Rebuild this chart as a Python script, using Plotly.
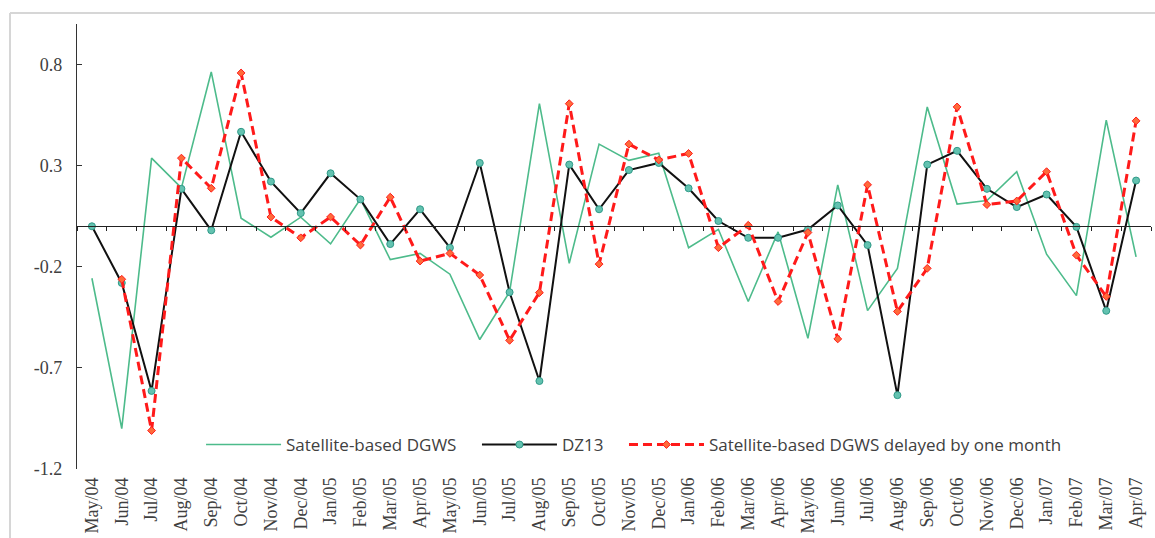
import plotly.graph_objects as go

# Monthly categories, May 2004 - April 2007
months = ["May/04", "Jun/04", "Jul/04", "Aug/04", "Sep/04", "Oct/04", "Nov/04", "Dec/04",
          "Jan/05", "Feb/05", "Mar/05", "Apr/05", "May/05", "Jun/05", "Jul/05", "Aug/05",
          "Sep/05", "Oct/05", "Nov/05", "Dec/05", "Jan/06", "Feb/06", "Mar/06", "Apr/06",
          "May/06", "Jun/06", "Jul/06", "Aug/06", "Sep/06", "Oct/06", "Nov/06", "Dec/06",
          "Jan/07", "Feb/07", "Mar/07", "Apr/07"]

satellite_dgws = [-0.257, -1.0, 0.337, 0.19, 0.763, 0.04, -0.054, 0.045, -0.087, 0.135,
                  -0.165, -0.134, -0.237, -0.56, -0.325, 0.606, -0.183, 0.406, 0.326, 0.361,
                  -0.106, -0.015, -0.372, -0.028, -0.554, 0.205, -0.417, -0.208, 0.59, 0.11,
                  0.127, 0.27, -0.138, -0.343, 0.525, -0.151]

dz13 = [0, -0.28, -0.814, 0.185, -0.02, 0.467, 0.221, 0.065, 0.262, 0.133,
        -0.088, 0.084, -0.106, 0.313, -0.326, -0.765, 0.305, 0.084, 0.278, 0.313,
        0.188, 0.026, -0.057, -0.057, -0.016, 0.103, -0.093, -0.835, 0.305, 0.373,
        0.185, 0.095, 0.157, -0.003, -0.418, 0.226]

satellite_delayed = [None, -0.262, -1.01, 0.337, 0.188, 0.758, 0.046, -0.057, 0.046, -0.093,
                     0.144, -0.172, -0.134, -0.241, -0.564, -0.328, 0.606, -0.187, 0.406, 0.328,
                     0.36, -0.106, 0.005, -0.372, -0.031, -0.557, 0.205, -0.421, -0.208, 0.59,
                     0.107, 0.125, 0.27, -0.143, -0.347, 0.521]

y_ticks = [-1.2, -0.7, -0.2, 0.3, 0.8]
y_min, y_max = -1.2, 1.0

W, H = 1155, 538
M_L, M_R, M_T, M_B = 77, 4, 24, 69
plot_w = W - M_L - M_R
plot_h = H - M_T - M_B

GREEN = "#4dbb8b"
RED = "#ff1a1a"
TEXT = "#404040"
SERIF = "Liberation Serif, Times New Roman, serif"
SANS = "Open Sans, Noto Sans, sans-serif"

fig = go.Figure()

fig.add_trace(go.Scatter(
    x=months, y=satellite_dgws, name="Satellite-based DGWS", mode="lines",
    legend="legend",
    line=dict(color=GREEN, width=1.6),
))
fig.add_trace(go.Scatter(
    x=months, y=dz13, name="DZ13", mode="lines+markers",
    legend="legend2",
    line=dict(color="#111111", width=2),
    marker=dict(symbol="circle", size=7, color="#63c2b0",
                line=dict(color="#2f9a88", width=1)),
))
fig.add_trace(go.Scatter(
    x=months, y=satellite_delayed, name="Satellite-based DGWS delayed by one month",
    mode="lines+markers", legend="legend3",
    line=dict(color=RED, width=3, dash="9px,5px"),
    marker=dict(symbol="diamond", size=6, color="#ff6a3a",
                line=dict(color=RED, width=1)),
))
# Empty trace so the zero-crossing category axis gets drawn
fig.add_trace(go.Scatter(x=[], y=[], xaxis="x2", yaxis="y", showlegend=False,
                         hoverinfo="skip", mode="lines"))

# Horizontal category axis drawn through y = 0 with ticks between months
zero_pos = (0 - y_min) / (y_max - y_min)
n = len(months)


def legend_box(x):
    return dict(orientation="h", x=x, y=0.054, xanchor="left", yanchor="middle",
                font=dict(family=SANS, size=17, color=TEXT),
                bgcolor="rgba(255,255,255,0)", itemwidth=75)


fig.update_layout(
    width=W, height=H,
    margin=dict(l=M_L, r=M_R, t=M_T, b=M_B),
    paper_bgcolor="white", plot_bgcolor="white",
    showlegend=True,
    legend=legend_box(0.1155),
    legend2=legend_box(0.3724),
    legend3=legend_box(0.5093),
    xaxis=dict(type="category", range=[-0.5, n - 0.5], showline=False, ticks="",
               showgrid=False, zeroline=False, tickangle=-90, ticklabelstandoff=4,
               tickfont=dict(family=SERIF, size=18, color=TEXT)),
    xaxis2=dict(type="linear", overlaying="x", anchor="free", position=zero_pos,
                range=[-0.5, n - 0.5], showline=True, linecolor="#222222", linewidth=1.3,
                ticks="outside", ticklen=4, tickcolor="#222222", tickwidth=1,
                tickvals=[i - 0.5 for i in range(n + 1)], showticklabels=False,
                showgrid=False, zeroline=False, side="bottom"),
    yaxis=dict(range=[y_min, y_max], tickvals=y_ticks, ticktext=[f"{v:.1f}" for v in y_ticks],
               showline=True, linecolor="#333333", linewidth=1.3, ticks="inside", ticklen=5,
               tickcolor="#333333", showgrid=False, zeroline=False,
               ticklabelstandoff=10,
               tickfont=dict(family=SERIF, size=18, color=TEXT)),
)

# Outer chart-area border (top and left edges visible)
bx0 = (10 - M_L) / plot_w
by0 = 1 + (M_T - 13) / plot_h
fig.add_shape(type="line", xref="paper", yref="paper", x0=bx0, x1=1 + (M_R + 5) / plot_w,
              y0=by0, y1=by0, line=dict(color="#d6d6d6", width=2))
fig.add_shape(type="line", xref="paper", yref="paper", x0=bx0, x1=bx0,
              y0=by0, y1=-(M_B + 5) / plot_h, line=dict(color="#d6d6d6", width=2))

fig.write_html("out.html")
